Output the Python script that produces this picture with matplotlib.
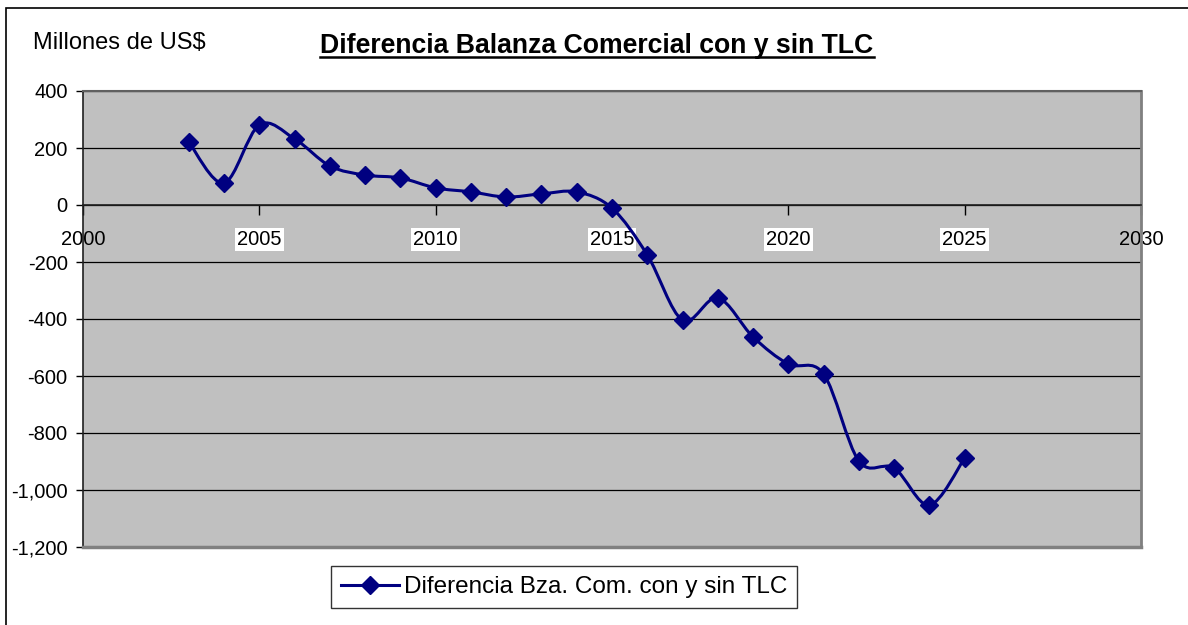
import numpy as np
import matplotlib.pyplot as plt
from matplotlib.path import Path
from matplotlib.patches import PathPatch, Rectangle
from matplotlib.lines import Line2D
from matplotlib.ticker import FuncFormatter

plt.rcParams['font.family'] = ['Liberation Sans', 'DejaVu Sans']

years = [2003, 2004, 2005, 2006, 2007, 2008, 2009, 2010, 2011, 2012, 2013, 2014,
         2015, 2016, 2017, 2018, 2019, 2020, 2021, 2022, 2023, 2024, 2025]
diferencia = [221, 77, 281, 232, 137, 105, 95, 60, 46, 28, 39, 46,
              -11, -175, -404, -326, -463, -558, -593, -898, -923, -1053, -888]

title = "Diferencia Balanza Comercial con y sin TLC"
ylabel = "Millones de US$"
series_label = "Diferencia Bza. Com. con y sin TLC"
navy = '#000080'


def smooth_path(xs, ys):
    # Catmull-Rom style bezier like Excel's smoothed line
    pts = np.column_stack([xs, ys]).astype(float)
    n = len(pts)
    verts = [pts[0]]
    codes = [Path.MOVETO]
    for i in range(n - 1):
        p0 = pts[max(i - 1, 0)]
        p1 = pts[i]
        p2 = pts[i + 1]
        p3 = pts[min(i + 2, n - 1)]
        verts += [p1 + (p2 - p0) / 6, p2 - (p3 - p1) / 6, p2]
        codes += [Path.CURVE4] * 3
    return Path(verts, codes)


fig = plt.figure(figsize=(11.88, 6.25), dpi=100)
ax = fig.add_axes([83 / 1188, 78 / 625, 1058 / 1188, 456 / 625])
ax.set_facecolor('#C0C0C0')
ax.set_xlim(2000, 2030)
ax.set_ylim(-1200, 400)

ax.set_yticks(np.arange(-1200, 401, 200))
ax.yaxis.set_major_formatter(FuncFormatter(lambda v, p: f"{int(v):,}"))
ax.set_xticks(np.arange(2000, 2031, 5))
ax.grid(axis='y', color='black', lw=0.9)
ax.set_axisbelow(True)

ax.spines['top'].set_color('#606060')
ax.spines['top'].set_linewidth(1.5)
ax.spines['right'].set_color('#808080')
ax.spines['right'].set_linewidth(2)
ax.spines['left'].set_color('#202020')
ax.spines['left'].set_linewidth(1.2)
ax.spines['bottom'].set_position(('data', 0))
ax.spines['bottom'].set_color('#202020')
ax.spines['bottom'].set_linewidth(1.2)
ax.axhline(-1200, color='#808080', lw=2.5, clip_on=False, zorder=3)

ax.tick_params(axis='y', direction='out', length=5, width=1, pad=6, labelsize=14.5)
ax.tick_params(axis='x', direction='out', length=7, width=1, pad=11, labelsize=14.5)
for lbl in ax.get_xticklabels()[1:-1]:
    lbl.set_bbox(dict(facecolor='white', edgecolor='none', pad=1.5))

ax.add_patch(PathPatch(smooth_path(years, diferencia), fill=False, edgecolor=navy, lw=2.2, zorder=4))
ax.plot(years, diferencia, ls='none', marker='D', ms=9.5, color=navy, zorder=5)

fig.text(33 / 1188, 1 - 43 / 625, ylabel, fontsize=17, va='center', ha='left')
t = fig.text(597 / 1188, 1 - 46 / 625, title, fontsize=19.2, fontweight='bold', ha='center', va='center')

handle = Line2D([], [], color=navy, lw=2.2, marker='D', ms=9.5)
leg = fig.legend([handle], [series_label], loc='center', bbox_to_anchor=(564 / 1188, 1 - 587 / 625),
                 fontsize=17.5, frameon=True, fancybox=False, edgecolor='black', handlelength=2.4,
                 borderpad=0.42, handletextpad=0.2, borderaxespad=0)
leg.get_frame().set_linewidth(1)

# outer chart border
fig.patches.append(Rectangle((6 / 1188, -0.1), 1.5, 1.1 - 8 / 625, transform=fig.transFigure,
                             fill=False, edgecolor='black', lw=1.2))

# underline the title
fig.canvas.draw()
bb = t.get_window_extent().transformed(fig.transFigure.inverted())
fig.add_artist(Line2D([bb.x0, bb.x1], [bb.y0 + 0.004, bb.y0 + 0.004], transform=fig.transFigure,
                      color='black', lw=1.8))

fig.savefig('out.png', dpi=100)
